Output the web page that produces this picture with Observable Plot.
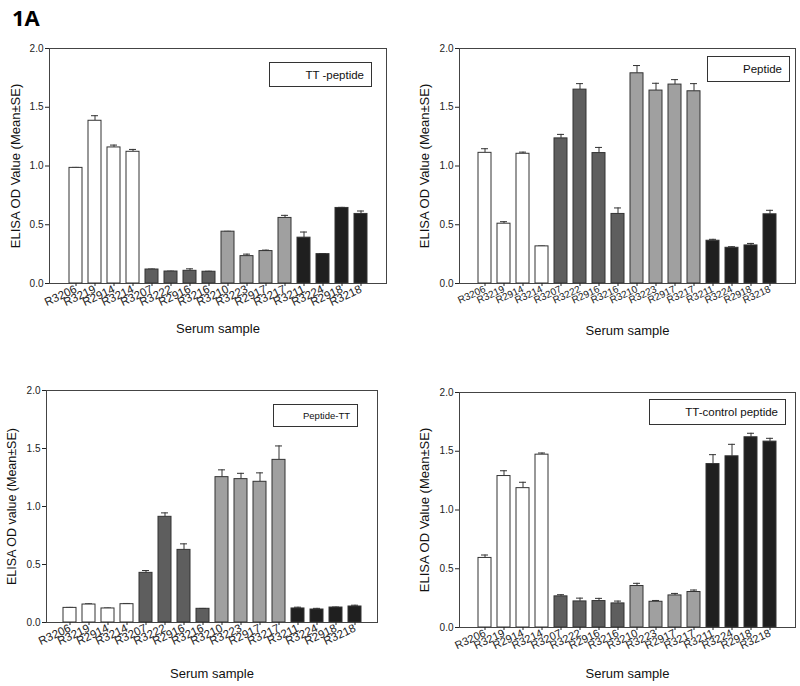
<!DOCTYPE html>
<html><head><meta charset="utf-8">
<script src="https://cdn.jsdelivr.net/npm/d3@7"></script>
<script src="https://cdn.jsdelivr.net/npm/@observablehq/plot@0.6"></script>
<style>
body{margin:0;background:#fff;font-family:"Liberation Sans",Arial,sans-serif;}
#wrap{position:relative;width:800px;height:686px;overflow:hidden;background:#fff;}
.panel{position:absolute;}
.legend{position:absolute;border:1px solid #333;background:#fff;box-sizing:border-box;display:flex;align-items:center;justify-content:flex-end;padding-right:7px;color:#111;font-family:"Liberation Sans",Arial,sans-serif;}
#fig{position:absolute;left:12px;top:2px;font:bold 22px "Open Sans",sans-serif;color:#000;}
</style></head>
<body><div id="wrap"><div id="fig">1A</div></div>
<script>
// ---- data ----
const samples = ["R3206","R3219","R2914","R3214","R3207","R3222","R2916","R3216","R3210","R3223","R2917","R3217","R3211","R3224","R2918","R3218"];
const groups = ["g1","g1","g1","g1","g2","g2","g2","g2","g3","g3","g3","g3","g4","g4","g4","g4"];
const groupNames = ["g1","g2","g3","g4"];
const groupColors = ["#ffffff","#5e5e5e","#a0a0a0","#1f1f1f"];
const yTicks = [0, 0.5, 1.0, 1.5, 2.0];

const ttPeptideMean = [0.984,1.385,1.158,1.121,0.119,0.102,0.108,0.100,0.441,0.233,0.276,0.558,0.390,0.250,0.643,0.592];
const ttPeptideSE   = [0.004,0.043,0.020,0.020,0.004,0.003,0.017,0.004,0.003,0.017,0.008,0.022,0.048,0.005,0.005,0.025];

const peptideMean = [1.112,0.509,1.104,0.316,1.235,1.650,1.110,0.592,1.789,1.642,1.693,1.636,0.364,0.304,0.324,0.589];
const peptideSE   = [0.035,0.017,0.014,0.003,0.034,0.051,0.048,0.051,0.066,0.062,0.042,0.065,0.012,0.009,0.017,0.034];

const peptideTTMean = [0.126,0.155,0.121,0.158,0.428,0.911,0.626,0.118,1.253,1.236,1.213,1.402,0.121,0.112,0.129,0.138];
const peptideTTSE   = [0.004,0.006,0.004,0.006,0.020,0.034,0.052,0.003,0.063,0.050,0.077,0.120,0.011,0.010,0.004,0.011];

const ttControlMean = [0.592,1.289,1.186,1.471,0.265,0.222,0.225,0.205,0.353,0.219,0.273,0.302,1.391,1.457,1.619,1.582];
const ttControlSE   = [0.025,0.045,0.050,0.014,0.014,0.028,0.023,0.020,0.023,0.011,0.017,0.017,0.080,0.102,0.034,0.028];

const legendLabels = ["TT -peptide","Peptide","Peptide-TT","TT-control peptide"];
const yLabels = ["ELISA OD Value (Mean±SE)","ELISA OD Value (Mean±SE)","ELISA OD value (Mean±SE)","ELISA OD Value (Mean±SE)"];
const xLabel = "Serum sample";

// ---- layout ----
const panels = [
  {mean: ttPeptideMean, se: ttPeptideSE, left:0, top:0, w:400, h:340, ml:49, mr:14, mt:48, mb:57, xr:[60,376], xf:11.5, yl:34, xlDy:45, ylFont:13,
   lg:{x:269,y:62,w:103,h:25,f:11.5}},
  {mean: peptideMean, se: peptideSE, left:400, top:0, w:400, h:340, ml:59, mr:5, mt:48, mb:57, xr:[69,384], xf:10, yl:35, xlDy:47, ylFont:13,
   lg:{x:307,y:56,w:83,h:26,f:11.5}},
  {mean: peptideTTMean, se: peptideTTSE, left:0, top:340, w:400, h:346, ml:46, mr:23, mt:50, mb:64, xr:[56,368], xf:11.5, yl:35, xlDy:51, ylFont:12.5,
   lg:{x:273,y:64,w:85,h:23,f:9.5}},
  {mean: ttControlMean, se: ttControlSE, left:400, top:340, w:400, h:346, ml:59, mr:5, mt:52, mb:59, xr:[69,384], xf:11, yl:35, xlDy:46, ylFont:13,
   lg:{x:249,y:59,w:137,h:26,f:11.5}}
];

const wrap = document.getElementById("wrap");
panels.forEach((p, k) => {
  const data = samples.map((s, i) => ({sample: s, group: groups[i], mean: p.mean[i], top: p.mean[i] + p.se[i]}));
  const chart = Plot.plot({
    width: p.w, height: p.h,
    marginLeft: p.ml, marginRight: p.mr, marginTop: p.mt, marginBottom: p.mb,
    style: {fontFamily: '"Liberation Sans", Arial, sans-serif', fontSize: "10px", color: "#222", background: "transparent", overflow: "visible"},
    x: {domain: samples, range: p.xr, padding: 0.34, label: null},
    y: {domain: [0, 2], label: null},
    color: {domain: groupNames, range: groupColors},
    marks: [
      Plot.ruleX(data, {x: "sample", y1: "mean", y2: "top", stroke: "#333", strokeWidth: 1}),
      Plot.tickY(data, {x: "sample", y: "top", stroke: "#333", strokeWidth: 1, insetLeft: 3, insetRight: 3}),
      Plot.barY(data, {x: "sample", y: "mean", fill: "group", stroke: "#333", strokeWidth: 1}),
      Plot.frame({stroke: "#444", strokeWidth: 1}),
      Plot.axisY({ticks: yTicks, tickFormat: d3.format(".1f"), tickSize: 4, tickPadding: 2, label: null, fontSize: 10}),
      Plot.axisX({tickRotate: -25, tickSize: 3, tickPadding: 2, label: null, fontSize: p.xf}),
      Plot.text([yLabels[k]], {frameAnchor: "left", rotate: -90, dx: -p.yl, textAnchor: "middle", lineAnchor: "middle", fontSize: p.ylFont, fill: "#111"}),
      Plot.text([xLabel], {frameAnchor: "bottom", dy: p.xlDy, textAnchor: "middle", lineAnchor: "middle", fontSize: 13, fill: "#111"})
    ]
  });
  const div = document.createElement("div");
  div.className = "panel";
  div.style.left = p.left + "px";
  div.style.top = p.top + "px";
  div.appendChild(chart);
  const lg = document.createElement("div");
  lg.className = "legend";
  lg.style.left = p.lg.x + "px";
  lg.style.top = p.lg.y + "px";
  lg.style.width = p.lg.w + "px";
  lg.style.height = p.lg.h + "px";
  lg.style.fontSize = p.lg.f + "px";
  lg.textContent = legendLabels[k];
  div.appendChild(lg);
  wrap.appendChild(div);
});
</script>
</body></html>
